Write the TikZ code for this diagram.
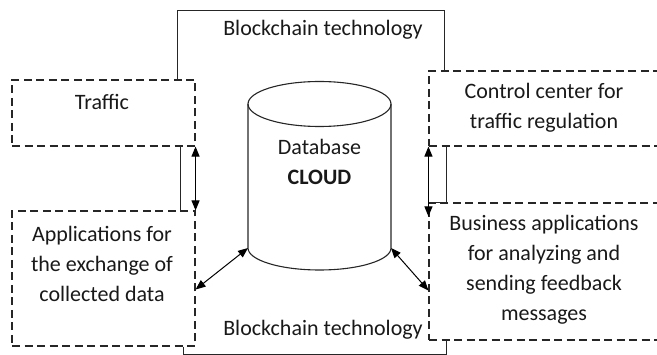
\documentclass[tikz,border=0pt]{standalone}
\usepackage{fontspec}
\setmainfont{Carlito}
\usetikzlibrary{arrows.meta,calc}
\begin{document}
\begin{tikzpicture}[x=1pt,y=-1pt,
  line width=1.1pt, draw=black!85,
  every node/.style={font=\fontsize{22}{30}\selectfont, text=black!90},
  dashbox/.style={draw, dash pattern=on 8pt off 4.5pt, inner sep=0pt},
  txt/.style={align=center, inner sep=0pt},
  link/.style={{Triangle[length=10pt,width=8pt]}-{Triangle[length=10pt,width=8pt]}, line width=1pt, draw=black}]
\useasboundingbox (0,0) rectangle (657,355);
\clip (0,0) rectangle (657,355);

% dashed boxes
\node[dashbox, minimum width=183pt, minimum height=66pt] (traffic) at (103.5,113) {};
\node[dashbox, minimum width=241pt, minimum height=75pt] (ctrl) at (549.5,108.5) {};
\node[dashbox, minimum width=183pt, minimum height=135pt] (apps) at (103.5,278.5) {};
\node[dashbox, minimum width=241pt, minimum height=137pt] (biz) at (549.5,271.5) {};

% box texts
\node[txt] (traffictxt) at (102,102) {Traffic};
\node[txt] (ctrltxt) at (544,108) {Control center for\\traffic regulation};
\node[txt] (appstxt) at (102,264) {Applications for\\the exchange of\\collected data};
\node[txt] (biztxt) at (544,270) {Business applications\\for analyzing and\\sending feedback\\messages};

% blockchain frame
\draw ([xshift=-18pt]traffic.north east) -- ++(0,-69) -| ([xshift=16pt]ctrl.north west);
\draw ([xshift=-15pt]traffic.south east) -- ([xshift=-15pt]apps.north east);
\draw ([xshift=18pt]ctrl.south west) |- (biz.north west);
\draw ([xshift=-12pt]apps.south east) -- ++(0,8) -| ([xshift=18pt]biz.south west);
\node[txt] (bctop) at (323,30) {Blockchain technology};
\node[txt] (bcbot) at (323,330) {Blockchain technology};

% database cylinder
\coordinate (dbtl) at (248,104);
\coordinate (dbtr) at (391,104);
\coordinate (dbbl) at (248,248);
\coordinate (dbbr) at (391,248);
\draw[fill=white] (319.5,104) ellipse [x radius=71.5pt, y radius=22.5pt];
\draw (dbtl) -- (dbbl) arc[start angle=180, end angle=360, x radius=71.5pt, y radius=22pt] -- (dbtr);
\node[txt] (db) at (319.5,162) {Database\\\textbf{CLOUD}};

% data links
\draw[link] (traffic.south east) -- (apps.north east);
\draw[link] (ctrl.south west) -- ([yshift=-14pt]biz.north west);
\draw[link] (dbbl) -- ([yshift=-11pt]apps.east);
\draw[link] (dbbr) -- ([yshift=-19pt]biz.west);
\end{tikzpicture}
\end{document}
